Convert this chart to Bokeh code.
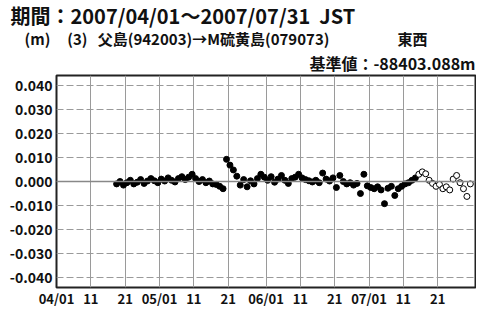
import pandas as pd
from bokeh.plotting import figure
from bokeh.models import Range1d, FixedTicker, NumeralTickFormatter, Span, Title
from bokeh.embed import file_html
from bokeh.resources import INLINE

# ---- data ----
period_start = "2007-04-01"
period_end = "2007-08-01"

tick_dates = ["2007-04-01", "2007-04-11", "2007-04-21", "2007-05-01", "2007-05-11", "2007-05-21",
              "2007-06-01", "2007-06-11", "2007-06-21", "2007-07-01", "2007-07-11", "2007-07-21"]
tick_labels = ["04/01", "11", "21", "05/01", "11", "21", "06/01", "11", "21", "07/01", "11", "21"]
y_ticks = [-0.04, -0.03, -0.02, -0.01, 0.0, 0.01, 0.02, 0.03, 0.04]

# final solution (filled circles), daily from 2007-04-18
final_first_day = "2007-04-18"
final_values = [
    -0.0010, 0.0000, -0.0015, -0.0005, 0.0005, -0.0010, -0.0003, 0.0008, -0.0008, 0.0002,
    0.0012, 0.0003, -0.0005, 0.0010, 0.0002, 0.0015, 0.0005, -0.0002, 0.0012, 0.0020,
    0.0008, 0.0018, 0.0030, 0.0012, 0.0000, 0.0008, -0.0005, 0.0002, -0.0010, -0.0012,
    -0.0020, -0.0030, 0.0092, 0.0068, 0.0048, 0.0022, -0.0015, 0.0008, -0.0022, 0.0003,
    -0.0010, 0.0012, 0.0030, 0.0018, 0.0005, 0.0020, -0.0003, 0.0010, 0.0025, 0.0005,
    -0.0008, 0.0012, 0.0018, 0.0030, 0.0015, 0.0008, 0.0003, -0.0002, 0.0005, -0.0005,
    0.0035, 0.0010, 0.0002, 0.0015, -0.0025, 0.0025, 0.0000, -0.0010, -0.0005, -0.0015,
    -0.0008, -0.0050, 0.0030, -0.0018, -0.0025, -0.0030, -0.0022, -0.0035, -0.0092, -0.0028,
    -0.0020, -0.0058, -0.0030, -0.0020, -0.0010, -0.0005, 0.0005, 0.0015,
]
# rapid solution (open circles), daily from 2007-07-15
rapid_first_day = "2007-07-15"
rapid_values = [
    0.0030, 0.0040, 0.0032, 0.0005, -0.0008, -0.0020, -0.0012, -0.0030, -0.0022, -0.0035,
    0.0010, 0.0025, -0.0005, -0.0030, -0.0062, -0.0010,
]

NB = "\u00a0"
title_text = "期間：2007/04/01～2007/07/31" + NB * 2 + "JST"
route_text = "(m)" + NB * 5 + "(3)" + NB * 3 + "父島(942003)→M硫黄島(079073)" + NB * 20 + "東西"
base_text = "基準値：-88403.088m"

# ---- derived ----
t0 = pd.Timestamp(period_start)
def day_offset(dates):
    return [(d - t0).days + 0.5 for d in dates]

final_x = day_offset(pd.date_range(final_first_day, periods=len(final_values)))
rapid_x = day_offset(pd.date_range(rapid_first_day, periods=len(rapid_values)))
tick_x = [(pd.Timestamp(d) - t0).days for d in tick_dates]
x_end = (pd.Timestamp(period_end) - t0).days

FONT = "Noto Sans CJK JP"

p = figure(width=476, height=310, output_backend="svg", toolbar_location=None,
           x_range=Range1d(0, x_end), y_range=Range1d(-0.044, 0.044),
           min_border_left=56, min_border_right=1, min_border_top=0, min_border_bottom=0)
p.background_fill_color = "white"
p.border_fill_color = "white"
p.outline_line_color = "#222222"
p.outline_line_width = 2

p.xaxis.ticker = FixedTicker(ticks=tick_x)
p.xaxis.major_label_overrides = {k: v for k, v in zip(tick_x, tick_labels)}
p.yaxis.ticker = FixedTicker(ticks=y_ticks)
p.yaxis.formatter = NumeralTickFormatter(format="0.000")
for ax in (p.xaxis, p.yaxis):
    ax.axis_line_color = None
    ax.major_tick_line_color = None
    ax.minor_tick_line_color = None
    ax.major_tick_out = 0
    ax.major_tick_in = 0
    ax.minor_tick_out = 0
    ax.minor_tick_in = 0
    ax.major_label_text_font = FONT
    ax.major_label_text_font_style = "bold"
    ax.major_label_text_color = "#111111"
p.yaxis.major_label_text_font_size = "14px"
p.yaxis.major_label_standoff = 4
p.xaxis.major_label_text_font_size = "13px"
p.xaxis.major_label_standoff = 1

p.xgrid.grid_line_color = "#9a9a9a"
p.xgrid.grid_line_width = 1
p.ygrid.grid_line_color = "#9a9a9a"
p.ygrid.grid_line_width = 1
p.ygrid.grid_line_dash = "7 3"

p.add_layout(Span(location=0, dimension="width", line_color="#888888", line_width=1.5))

p.scatter(final_x, final_values, size=6, marker="circle", fill_color="black", line_color="black")
p.scatter(rapid_x, rapid_values, size=6, marker="circle", fill_color="white", line_color="black", line_width=1)

def title(text, size, align="left", offset=0, standoff=0):
    p.add_layout(Title(text=text, text_font=FONT, text_font_style="bold", text_font_size=size,
                       align=align, offset=offset, standoff=standoff, text_color="#111111"), "above")

# added from nearest the frame outward
title(base_text, "16px", align="right", offset=0, standoff=2)
title(route_text, "15px", align="left", offset=-32, standoff=-3)
title(title_text, "20px", align="left", offset=-46, standoff=-4)

open("out.html", "w").write(file_html(p, INLINE))
